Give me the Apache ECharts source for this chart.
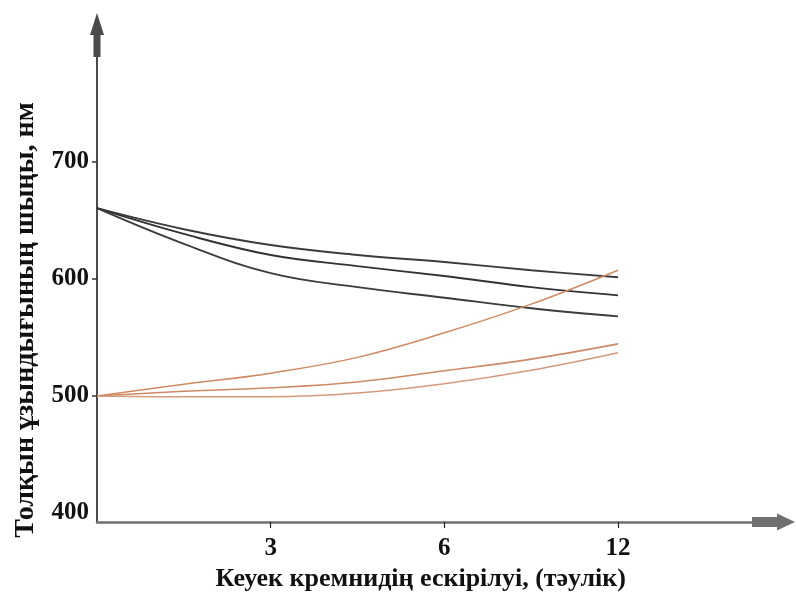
<!DOCTYPE html>
<html>
<head>
<meta charset="utf-8">
<script src="https://cdn.jsdelivr.net/npm/echarts@6/dist/echarts.min.js"></script>
<style>html,body{margin:0;padding:0;background:#fff}#c{width:796px;height:598px}</style>
</head>
<body>
<div id="c"></div>
<script>
// Ageing time samples (days); the drawn axis spaces them evenly
var xDays = ['0', '1.5', '3', '4.5', '6', '9', '12'];
var xLabelDays = ['3', '6', '12'];
var yTickValues = [400, 500, 600, 700];
var yTickMarks = [500, 600, 700];

// Peak wavelength, nm
var black1 = [660.5, 642.5, 629, 620.5, 614.5, 607.5, 601.5];
var black2 = [660.5, 638.5, 620.5, 611, 602.5, 593, 586];
var black3 = [660.5, 630, 605, 593, 584, 575, 568];
var red1 = [500, 510, 519.5, 533, 554, 578.5, 607.5];
var red2 = [500, 504, 507, 512, 521.5, 531.5, 544.5];
var red3 = [500, 499.3, 499.3, 502.5, 510.5, 522, 537];

var xName = 'Кеуек кремнидің ескірілуі, (тәулік)';
var yName = 'Толқын ұзындығының шыңы, нм';

function pts(arr) { return arr.map(function (v, i) { return [i, v]; }); }
var labelIdx = xLabelDays.map(function (d) { return xDays.indexOf(d); });

var FONT = '"Liberation Serif", "DejaVu Serif", serif';
var arrowUp = 'path://M7,0 L14,22 L10.5,22 L10.5,44 L3.5,44 L3.5,22 L0,22 Z';
var arrowX = 'path://M8.5,0 L17,18 L13.5,18 L13.5,43 L3.5,43 L3.5,18 L0,18 Z';

var chart = echarts.init(document.getElementById('c'), null, { renderer: 'canvas' });
function line(data, color, w) {
  return {
    type: 'line', data: pts(data), smooth: 0.4, showSymbol: false, symbol: 'none',
    lineStyle: { color: color, width: w }, silent: true
  };
}
chart.setOption({
  animation: false,
  backgroundColor: '#ffffff',
  grid: { left: 97, right: 22.5, top: 35, bottom: 76, containLabel: false },
  xAxis: {
    type: 'value', min: 0, max: 7.79,
    name: xName, nameLocation: 'middle', nameGap: 44,
    nameTextStyle: { fontFamily: FONT, fontWeight: 'bold', fontSize: 26, color: '#111', padding: [0, 29, 0, 0] },
    axisLine: { show: true, lineStyle: { color: '#707070', width: 2.5 }, symbol: ['none', arrowX], symbolSize: [17, 43] },
    axisTick: { show: true, customValues: labelIdx, length: 6, lineStyle: { color: '#222', width: 1.2 } },
    axisLabel: { customValues: labelIdx, margin: 14, fontFamily: FONT, fontWeight: 'bold', fontSize: 25, color: '#111',
      formatter: function (v) { return xDays[Math.round(v)]; } },
    splitLine: { show: false }
  },
  yAxis: {
    type: 'value', min: 392.3, max: 808.5,
    name: yName, nameLocation: 'middle', nameGap: 57, nameRotate: 90,
    nameTextStyle: { fontFamily: FONT, fontWeight: 'bold', fontSize: 28, color: '#111', padding: [0, 83, 0, 0] },
    axisLine: { show: true, lineStyle: { color: '#4a4a4a', width: 2 }, symbol: ['none', arrowUp], symbolSize: [14, 44] },
    axisTick: { show: true, customValues: yTickMarks, length: 5, lineStyle: { color: '#333', width: 1.5 } },
    axisLabel: { customValues: yTickValues, margin: 8, fontFamily: FONT, fontWeight: 'bold', fontSize: 25, color: '#111' },
    splitLine: { show: false }
  },
  series: [
    line(black1, '#3c3c3c', 1.9),
    line(black2, '#333333', 1.9),
    line(black3, '#3c3c3c', 1.9),
    line(red1, '#d08a63', 1.5),
    line(red2, '#cc8a66', 1.6),
    line(red3, '#d49a7a', 1.6)
  ]
});
</script>
</body>
</html>
